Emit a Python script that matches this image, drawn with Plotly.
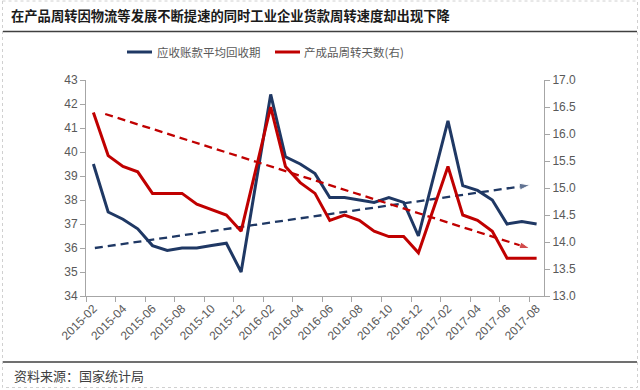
import plotly.graph_objects as go

months = ["2015-02","2015-03","2015-04","2015-05","2015-06","2015-07","2015-08","2015-09",
          "2015-10","2015-11","2015-12","2016-01","2016-02","2016-03","2016-04","2016-05",
          "2016-06","2016-07","2016-08","2016-09","2016-10","2016-11","2016-12","2017-01",
          "2017-02","2017-03","2017-04","2017-05","2017-06","2017-07","2017-08"]

receivable_days = [39.5, 37.5, 37.2, 36.8, 36.1, 35.9, 36.0, 36.0, 36.1, 36.2, 35.0, None,
                   42.4, 39.8, 39.5, 39.1, 38.1, 38.1, 38.0, 37.9, 38.1, 37.9, 36.5, None,
                   41.3, 38.6, 38.4, 38.0, 37.0, 37.1, 37.0]

inventory_days = [16.4, 15.6, 15.4, 15.3, 14.9, 14.9, 14.9, 14.7, 14.6, 14.5, 14.2, None,
                  16.5, 15.4, 15.1, 14.9, 14.4, 14.5, 14.4, 14.2, 14.1, 14.1, 13.8, None,
                  15.4, 14.5, 14.4, 14.2, 13.7, 13.7, 13.7]

# trend lines, x in month index units
blue_trend_x = [0.1, 29.55]
blue_trend_y = [36.0, 38.62]
red_trend_x = [0.8, 29.55]
red_trend_y = [16.37, 13.88]

left_ticks = [34, 35, 36, 37, 38, 39, 40, 41, 42, 43]
right_ticks = [13.0, 13.5, 14.0, 14.5, 15.0, 15.5, 16.0, 16.5, 17.0]

BLUE = "#1F3864"
RED = "#C00000"
GRAY = "#595959"
AX = "#A6A6A6"

W, H = 640, 390
L, R, T, B = 86, 544, 80, 296

def px(x):
    return (x - L) / (R - L)

def py(y):
    return (B - y) / (B - T)

idx = list(range(len(months)))

fig = go.Figure()
fig.add_trace(go.Scatter(x=idx, y=receivable_days, mode="lines", connectgaps=True,
                         line=dict(color=BLUE, width=3), name="应收账款平均回收期"))
fig.add_trace(go.Scatter(x=idx, y=inventory_days, mode="lines", connectgaps=True,
                         line=dict(color=RED, width=3), name="产成品周转天数(右)", yaxis="y2"))
fig.add_trace(go.Scatter(x=blue_trend_x, y=blue_trend_y, mode="lines+markers",
                         line=dict(color=BLUE, width=2.3, dash="8px,5px"),
                         marker=dict(symbol="arrow", size=[0, 11], angleref="previous", color=BLUE),
                         showlegend=False))
fig.add_trace(go.Scatter(x=red_trend_x, y=red_trend_y, mode="lines+markers", yaxis="y2",
                         line=dict(color=RED, width=2.3, dash="8px,5px"),
                         marker=dict(symbol="arrow", size=[0, 11], angleref="previous", color=RED),
                         showlegend=False))

tickfont = dict(family="Liberation Sans, Arial, sans-serif", size=12, color=GRAY)

fig.update_layout(
    width=W, height=H,
    margin=dict(l=L, r=W - R, t=T, b=H - B, pad=0),
    paper_bgcolor="white", plot_bgcolor="white",
    showlegend=False,
    xaxis=dict(range=[-0.5, len(months) - 0.5], tickmode="array",
               tickvals=idx[::2], ticktext=months[::2], tickangle=-45,
               ticks="", showgrid=False, zeroline=False,
               showline=True, linecolor=AX, linewidth=1, tickfont=tickfont,
               minor=dict(tickmode="array", tickvals=[i - 0.5 for i in idx[::2]],
                          ticks="outside", ticklen=5, tickcolor=AX, tickwidth=1, showgrid=False)),
    yaxis=dict(range=[34, 43], tickmode="array", tickvals=left_ticks,
               ticktext=[str(v) for v in left_ticks],
               ticks="outside", ticklen=5, tickcolor=AX, showgrid=False, zeroline=False,
               showline=True, linecolor=AX, linewidth=1, tickfont=tickfont),
    yaxis2=dict(range=[13, 17], overlaying="y", side="right", tickmode="array",
                tickvals=right_ticks, ticktext=[f"{v:.1f}" for v in right_ticks],
                ticks="outside", ticklen=5, tickcolor=AX, showgrid=False, zeroline=False,
                showline=True, linecolor=AX, linewidth=1, tickfont=tickfont),
)

cjk = "Noto Sans CJK SC"
shapes = [
    dict(type="rect", xref="paper", yref="paper", x0=px(2.5), x1=px(637.5), y0=py(1), y1=py(387.5),
         line=dict(color="#D0D0D0", width=1, dash="dot")),
    dict(type="line", xref="paper", yref="paper", x0=px(3), x1=px(637), y0=py(31.5), y1=py(31.5),
         line=dict(color="#404040", width=1.5)),
    dict(type="line", xref="paper", yref="paper", x0=px(3), x1=px(637), y0=py(362), y1=py(362),
         line=dict(color="#404040", width=1.5)),
    dict(type="line", xref="paper", yref="paper", x0=px(127), x1=px(152), y0=py(52), y1=py(52),
         line=dict(color=BLUE, width=3)),
    dict(type="line", xref="paper", yref="paper", x0=px(275), x1=px(300), y0=py(52), y1=py(52),
         line=dict(color=RED, width=3)),
]
fig.update_layout(shapes=shapes)

annotations = [
    dict(text="<b>在产品周转因物流等发展不断提速的同时工业企业货款周转速度却出现下降</b>",
         x=px(9), y=py(15), xref="paper", yref="paper", xanchor="left", yanchor="middle",
         showarrow=False, font=dict(family=cjk, size=13.3, color="#1A1A1A")),
    dict(text="应收账款平均回收期", x=px(155), y=py(52), xref="paper", yref="paper",
         xanchor="left", yanchor="middle", showarrow=False,
         font=dict(family=cjk, size=11.5, color=GRAY)),
    dict(text="产成品周转天数(右)", x=px(302), y=py(52), xref="paper", yref="paper",
         xanchor="left", yanchor="middle", showarrow=False,
         font=dict(family=cjk, size=11.5, color=GRAY)),
    dict(text="资料来源：国家统计局", x=px(12), y=py(375), xref="paper", yref="paper",
         xanchor="left", yanchor="middle", showarrow=False,
         font=dict(family=cjk, size=13, color="#404040")),
]
fig.update_layout(annotations=annotations)

fig.write_html("out.html", config={"displayModeBar": False},
               post_script="document.body.style.margin='0';document.body.style.padding='0';")
